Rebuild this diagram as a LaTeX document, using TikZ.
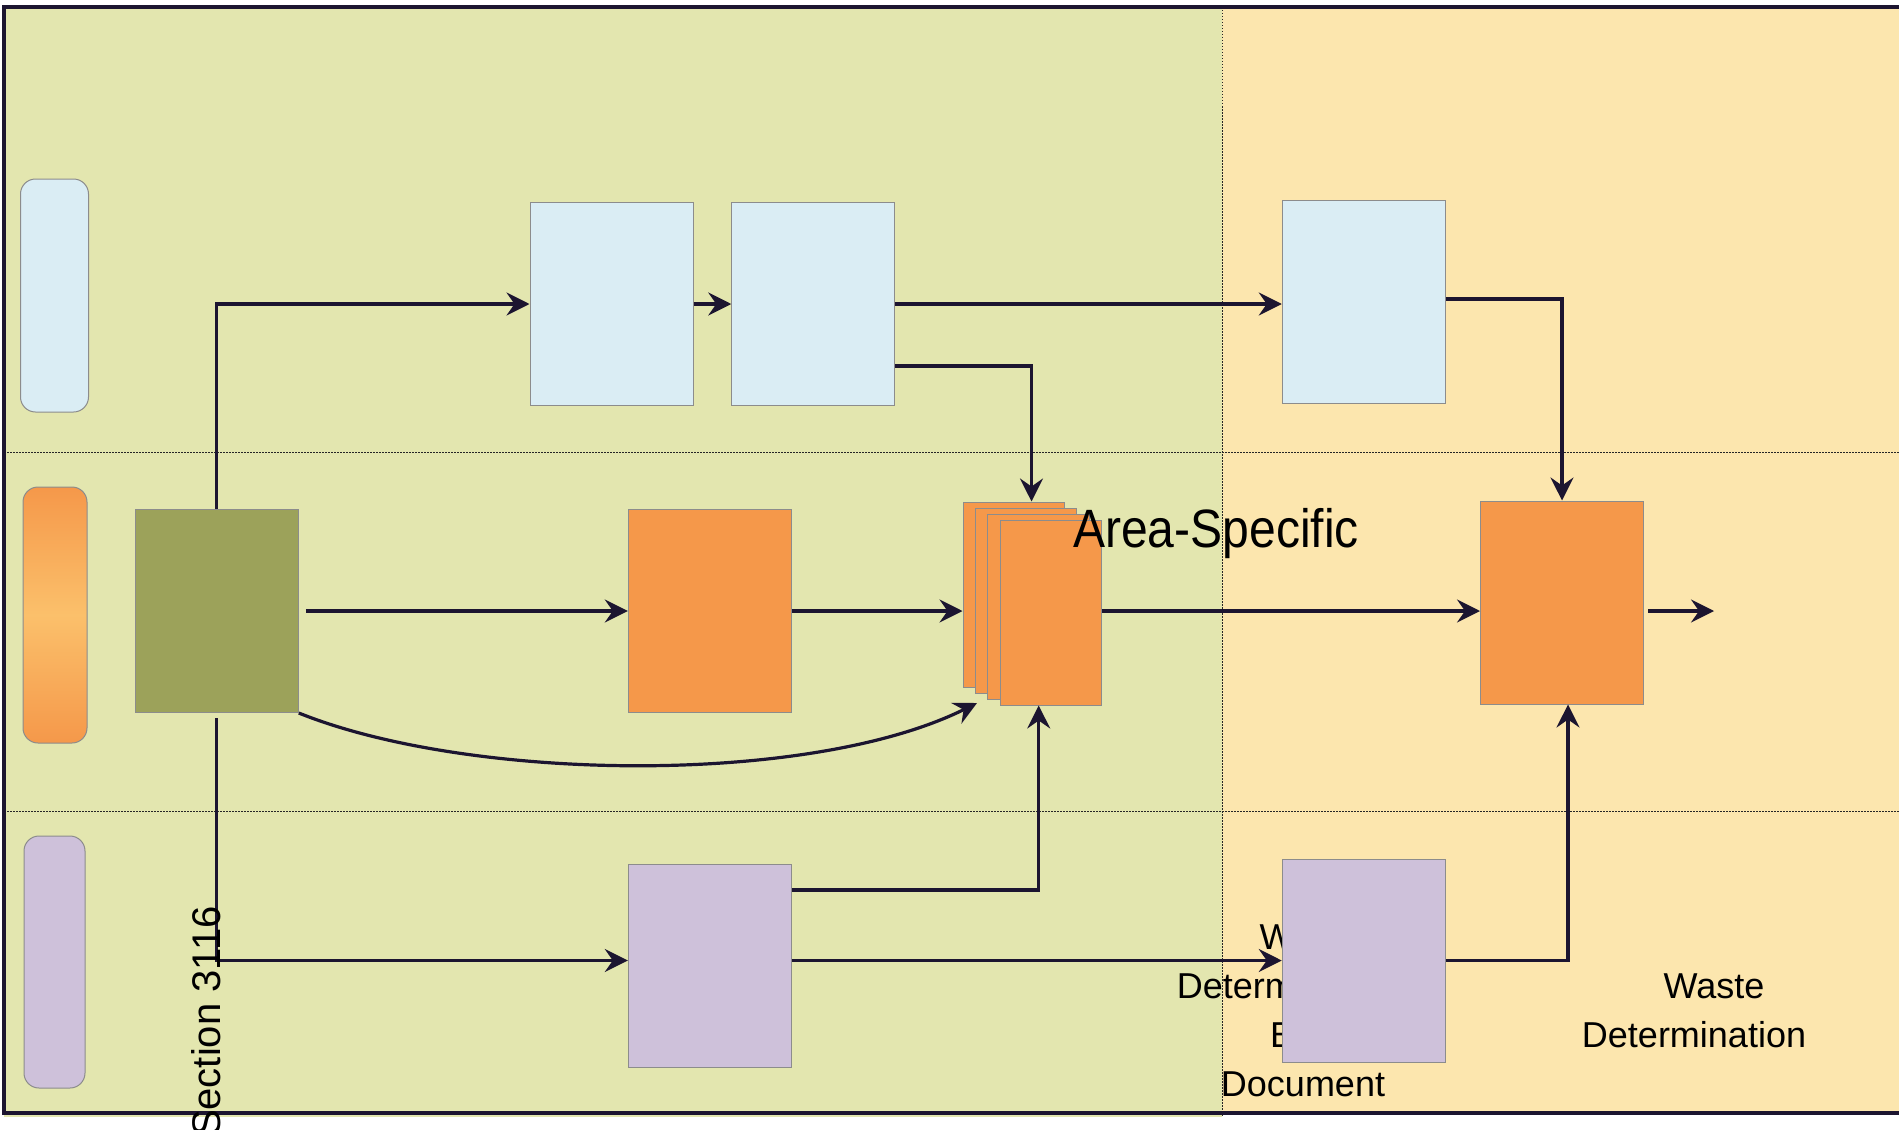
\documentclass[tikz,border=0pt]{standalone}
\usepackage{fontspec}
\setmainfont{Liberation Sans}
\usetikzlibrary{arrows.meta,calc}
\definecolor{bggreen}{HTML}{E3E6AF}
\definecolor{bgyellow}{HTML}{FCE6AE}
\definecolor{boxblue}{HTML}{DAEDF4}
\definecolor{boxorange}{HTML}{F5984A}
\definecolor{boxolive}{HTML}{9CA25A}
\definecolor{boxpurple}{HTML}{CEC1DA}
\definecolor{gradmid}{HTML}{FBC06B}
\definecolor{ink}{HTML}{1C1530}
\definecolor{edgegray}{HTML}{8C8C8C}
\begin{document}
\begin{tikzpicture}[x=0.5pt,y=-0.5pt,
  box/.style={draw=edgegray,line width=0.5pt,minimum width=81.5pt,minimum height=101.5pt,inner sep=0pt},
  lane/.style={draw=edgegray,line width=0.5pt,rounded corners=7.5pt,inner sep=0pt},
  stackbox/.style={box,fill=boxorange,minimum width=50.75pt,minimum height=92.5pt},
  arr/.style={draw=ink,line width=1.6pt,-{Stealth[length=11.5pt,width=11.5pt,inset=4pt]}},
  divider/.style={draw=black!85,line width=0.5pt,dash pattern=on 0.75pt off 0.75pt},
  lbl/.style={text=black,inner sep=0pt,font=\fontsize{18pt}{24.5pt}\selectfont,align=center}
]
\useasboundingbox (0,0) rectangle (1899,1129);
\fill[white] (0,0) rectangle (1899,1129);
\fill[bggreen] (4,7) rectangle (1222,1117);
\fill[bgyellow] (1222,7) rectangle (1899,1113);
\draw[divider] (4,452) -- (1899,452);
\draw[divider] (4,811) -- (1899,811);
\draw[divider] (1222,7) -- (1222,1117);
\draw[ink,line width=1.75pt] (1899,7) -| (4,1113) -- (1899,1113);

% lane labels
\node[lane,fill=boxblue,minimum width=34pt,minimum height=116.5pt] (L1) at (54.5,295.5) {};
\node[lane,top color=boxorange,bottom color=boxorange,middle color=gradmid,minimum width=32pt,minimum height=128pt] (L2) at (55,615) {};
\node[lane,fill=boxpurple,minimum width=30.5pt,minimum height=126pt] (L3) at (54.5,962) {};

% text hidden behind P2
\node[lbl] (wdbd) at (1303,1011) {\hspace*{7pt}Waste\\Determination\rule{14pt}{0pt}\\\hspace*{11pt}Basis\\Document};

% boxes
\node[box,fill=boxblue] (B1) at (611.5,304) {};
\node[box,fill=boxblue] (B2) at (813.25,304) {};
\node[box,fill=boxblue] (B3) at (1363.75,302) {};
\node[box,fill=boxolive] (G) at (216.8,611) {};
\node[box,fill=boxorange] (O1) at (709.8,611) {};
\node[box,fill=boxorange] (O2) at (1562,602.5) {};
\node[box,fill=boxpurple] (P1) at (709.8,966) {};
\node[box,fill=boxpurple] (P2) at (1363.75,960.5) {};
\node[stackbox] (S1) at (1013.75,594.5) {};
\node[stackbox] (S2) at (1026.15,600.5) {};
\node[stackbox] (S3) at (1038.55,606.5) {};
\node[stackbox] (S4) at (1050.95,612.5) {};

% connectors
\draw[arr] (G.north) |- (B1.west);
\draw[arr] (B1.east) -- (B2.west);
\draw[arr] (B2.east) -- (B2.east -| B3.west);
\draw[arr] ([yshift=-31pt]B2.east) -| ($(S1.north west)+(69,0)$);
\draw[arr] ([yshift=1.5pt]B3.east) -| (O2.north);
\draw[arr] ([xshift=3.5pt]G.east) -- (O1.west);
\draw[arr] (O1.east) -- (O1.east -| S1.west);
\draw[arr] (S4.east |- O1.east) -- (O1.east -| O2.west);
\coordinate (exitpt) at (1714,611);
\draw[arr] ($(O2.east |- exitpt)+(4,0)$) -- (exitpt);
\coordinate (curveend) at (977,703);
\draw[arr] (G.south east) .. controls (470,782) and (810,786) .. (curveend);
\draw[arr] ([yshift=-2.5pt]G.south) |- (P1.west |- P2.west);
\draw[arr] ([yshift=38pt]P1.east) -| ($(S4.south west)+(39,0)$);
\draw[arr] (P1.east |- P2.west) -- (P2.west);
\draw[arr] (P2.east) -| ($(O2.south)+(6,0)$);

% texts
\node[lbl] (wd) at (1694,1011) {\hspace*{20pt}Waste\\Determination};
\node[font=\fontsize{27pt}{31pt}\selectfont,inner sep=0pt,anchor=base,xscale=0.89,transform shape] (as) at (1216,547) {Area-Specific};
\node[font=\fontsize{20pt}{24pt}\selectfont,inner sep=0pt,rotate=90,anchor=base east] (sec) at (220,906) {Section 3116};
\end{tikzpicture}
\end{document}
